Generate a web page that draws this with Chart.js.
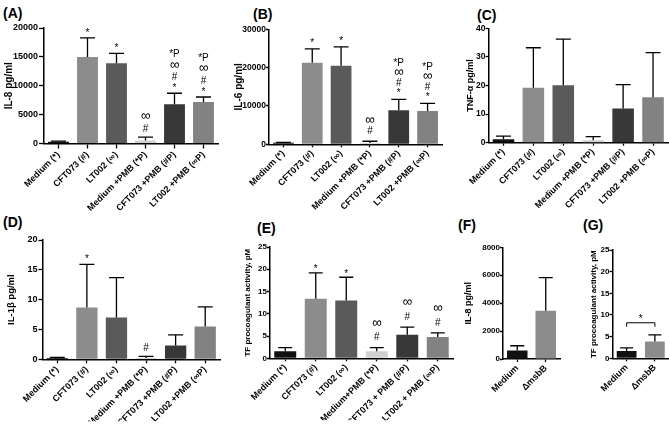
<!DOCTYPE html>
<html><head><meta charset="utf-8">
<script src="https://cdn.jsdelivr.net/npm/chart.js@4/dist/chart.umd.min.js"></script>
<style>
html,body{margin:0;padding:0;background:#fff;}
#wrap{position:relative;width:669px;height:428px;overflow:hidden;background:#fff;}
#wrap canvas{position:absolute;left:0;top:0;}
.pl{position:absolute;font:bold 14px "Liberation Sans",Arial,sans-serif;line-height:14px;color:#000;white-space:nowrap;}
</style></head><body>
<div id="wrap">
  <div class="pl" style="left:3px;top:6px">(A)</div>
  <div class="pl" style="left:253px;top:7px">(B)</div>
  <div class="pl" style="left:477px;top:8px">(C)</div>
  <div class="pl" style="left:3px;top:215px">(D)</div>
  <div class="pl" style="left:257px;top:221px">(E)</div>
  <div class="pl" style="left:458px;top:218px">(F)</div>
  <div class="pl" style="left:583px;top:218px">(G)</div>
</div>
<script>
// ---------- DATA ----------
const catsMain = ["Medium (*)", "CFT073 (#)", "LT002 (\u221E)", "Medium +PMB (*P)", "CFT073 +PMB (#P)", "LT002 +PMB (\u221EP)"];
const catsE = ["Medium (*)", "CFT073 (#)", "LT002 (\u221E)", "Medium+PMB (*P)", "CFT073 + PMB (#P)", "LT002 + PMB (\u221EP)"];
const catsFG = ["Medium", "\u0394msbB"];

const il8Mean = [300, 15000, 13900, 500, 6800, 7200];
const il8Sd   = [120, 3300, 1700, 600, 1900, 850];
const il6Mean = [400, 21300, 20500, 350, 8900, 8700];
const il6Sd   = [100, 3600, 4900, 450, 2800, 2000];
const tnfMean = [1.2, 19.2, 20.1, 0.9, 12.0, 15.9];
const tnfSd   = [1.1, 14.0, 16.1, 1.2, 8.3, 15.6];
const il1Mean = [0.2, 8.7, 7.0, 0.2, 2.3, 5.5];
const il1Sd   = [0.1, 7.2, 6.7, 0.3, 1.8, 3.3];
const tfMean  = [1.6, 13.4, 13.0, 1.6, 5.3, 4.8];
const tfSd    = [0.8, 5.8, 5.2, 0.8, 1.7, 0.9];
const il8FMean = [600, 3450];
const il8FSd   = [350, 2380];
const tfGMean  = [1.7, 3.9];
const tfGSd    = [0.7, 1.5];

const annA = [[], ["*"], ["*"], ["\u221E", "#"], ["*P", "\u221E", "#", "*"], ["*P", "\u221E", "#", "*"]];
const annB = [[], ["*"], ["*"], ["\u221E", "#"], ["*P", "\u221E", "#", "*"], ["*P", "\u221E", "#", "*"]];
const annD = [[], ["*"], [], ["#"], [], []];
const annE = [[], ["*"], ["*"], ["\u221E", "#"], ["\u221E", "#"], ["\u221E", "#"]];
const sigG = [{ from: 0, to: 1, value: 8.2, label: "*" }];

// ---------- STYLE ----------
const FONT = '"Liberation Sans", Arial, sans-serif';
const colorsMain = ["#111111", "#8c8c8c", "#5a5a5a", "#d0d0d0", "#383838", "#828282"];
const colorsFG = ["#111111", "#8c8c8c"];
Chart.defaults.font.family = FONT;
Chart.defaults.color = "#000";

const errPlugin = {
  id: "errAnn",
  afterDatasetsDraw(chart, args, o) {
    if (!o || !o.sd) return;
    const ctx = chart.ctx, meta = chart.getDatasetMeta(0), ys = chart.scales.y;
    const means = chart.data.datasets[0].data;
    ctx.save();
    ctx.strokeStyle = "#000";
    ctx.fillStyle = "#000";
    ctx.lineWidth = o.lw || 1.3;
    o.sd.forEach((s, i) => {
      const el = meta.data[i];
      const x = el.x;
      const yb = ys.getPixelForValue(means[i]);
      const yt = ys.getPixelForValue(means[i] + s);
      ctx.beginPath();
      ctx.moveTo(x, yb); ctx.lineTo(x, yt);
      ctx.moveTo(x - o.cap, yt); ctx.lineTo(x + o.cap, yt);
      ctx.stroke();
      const lines = (o.ann && o.ann[i]) || [];
      ctx.textAlign = "center";
      ctx.textBaseline = "alphabetic";
      for (let k = 0; k < lines.length; k++) {
        const t = lines[lines.length - 1 - k];
        const g0 = lines[lines.length - 1] === "*" ? o.gs : o.go;
        const fs = t === "\u221E" ? (o.afs || 10) * 1.35 : (o.afs || 10);
        ctx.font = fs + "px " + FONT;
        ctx.fillText(t, x, yt - g0 - k * o.sp);
      }
    });
    if (o.sig) {
      ctx.lineWidth = 1;
      o.sig.forEach(b => {
        const x1 = meta.data[b.from].x, x2 = meta.data[b.to].x;
        const y = ys.getPixelForValue(b.value);
        ctx.beginPath();
        ctx.moveTo(x1, y + 4); ctx.lineTo(x1, y); ctx.lineTo(x2, y); ctx.lineTo(x2, y + 4);
        ctx.stroke();
        ctx.font = "10px " + FONT;
        ctx.fillText(b.label, (x1 + x2) / 2, y - 1);
      });
    }
    ctx.restore();
  }
};

function panel(p) {
  const cv = document.createElement("canvas");
  cv.width = 669; cv.height = 428;
  cv.style.width = "669px"; cv.style.height = "428px";
  document.getElementById("wrap").appendChild(cv);
  const tfs = p.tfs, lh = tfs * 1.2;
  const yw = p.x0 - p.titleX + lh / 2 + 2;
  const xh = p.xh;
  const tl = p.tl || 4;
  new Chart(cv, {
    type: "bar",
    data: {
      labels: p.labels,
      datasets: [{
        data: p.means,
        backgroundColor: p.colors,
        borderWidth: 0,
        barPercentage: p.bp || 0.72,
        categoryPercentage: 1
      }]
    },
    options: {
      responsive: false,
      animation: false,
      devicePixelRatio: 1,
      layout: { padding: { left: p.x0 - yw, top: p.y0, right: 669 - p.x1, bottom: 428 - p.y1 - xh } },
      plugins: {
        legend: { display: false },
        tooltip: { enabled: false },
        errAnn: { sd: p.sd, ann: p.ann, cap: p.cap || 7, afs: p.afs, sp: p.sp, gs: p.gs, go: p.go, sig: p.sig }
      },
      scales: {
        x: {
          afterFit: s => { s.height = xh; },
          border: { color: "#000", width: 1.5 },
          grid: { display: true, drawOnChartArea: false, drawTicks: true, offset: false, tickLength: tl, tickColor: "#000", tickWidth: 1.3, color: "#000" },
          ticks: { autoSkip: false, minRotation: 45, maxRotation: 45, padding: 1, color: "#000", font: { size: p.xfs || 9, weight: "bold" } }
        },
        y: {
          min: 0, max: p.max,
          afterFit: s => { s.width = yw; },
          border: { color: "#000", width: 1.5 },
          grid: { display: true, drawOnChartArea: false, drawTicks: true, tickLength: tl, tickColor: "#000", tickWidth: 1.3, color: "#000" },
          ticks: { stepSize: p.step, padding: p.tp === undefined ? 1 : p.tp, color: "#000", font: { size: p.yfs || 8.5, weight: "bold" }, callback: v => String(v) },
          title: { display: true, text: p.title, color: "#000", font: { size: tfs, weight: "bold" }, padding: { top: 2, bottom: 0 } }
        }
      }
    },
    plugins: [errPlugin]
  });
}

panel({ labels: catsMain, means: il8Mean, sd: il8Sd, colors: colorsMain, max: 20000, step: 5000,
  x0: 44, x1: 218, y0: 28, y1: 143.5, xh: 70, titleX: 9, tfs: 10, title: "IL-8 pg/ml",
  ann: annA, afs: 10, sp: 11.3, gs: 2, go: 5.5, cap: 7.5, tl: 5, yfs: 9 });
panel({ labels: catsMain, means: il6Mean, sd: il6Sd, colors: colorsMain, max: 30000, step: 10000,
  x0: 269, x1: 442, y0: 29.3, y1: 144.3, xh: 70, titleX: 239, tfs: 10, title: "IL-6 pg/ml",
  ann: annB, afs: 10, sp: 10, gs: 3, go: 7, cap: 7.5, tl: 3, tp: 0, yfs: 8.5 });
panel({ labels: catsMain, means: tnfMean, sd: tnfSd, colors: colorsMain, max: 40, step: 10,
  x0: 488.5, x1: 668, y0: 28.3, y1: 142.7, xh: 70, titleX: 471, tfs: 9, title: "TNF-\u03B1 pg/ml",
  ann: null, cap: 7.5, yfs: 8.5, tl: 3, tp: 0 });
panel({ labels: catsMain, means: il1Mean, sd: il1Sd, colors: colorsMain, max: 20, step: 5,
  x0: 42.5, x1: 220, y0: 240, y1: 359.3, xh: 62, titleX: 11, tfs: 9.5, title: "IL-1\u03B2 pg/ml",
  ann: annD, afs: 10, sp: 11, gs: 2, go: 5.4, cap: 7.5, tl: 4, yfs: 9 });
panel({ labels: catsE, means: tfMean, sd: tfSd, colors: colorsMain, max: 25, step: 5,
  x0: 270, x1: 453, y0: 247, y1: 358.3, xh: 62, titleX: 248, tfs: 8, title: "TF procoagulant activity, pM",
  ann: annE, afs: 10, sp: 13.5, gs: 0.5, go: 7.4, cap: 7, yfs: 8, tl: 3, tp: 0 });
panel({ labels: catsFG, means: il8FMean, sd: il8FSd, colors: colorsFG, max: 8000, step: 2000,
  x0: 503, x1: 560, y0: 247.3, y1: 359, xh: 62, titleX: 469, tfs: 9, title: "IL-8 pg/ml",
  ann: null, cap: 7, yfs: 8, bp: 0.72, tl: 3, tp: 0 });
panel({ labels: catsFG, means: tfGMean, sd: tfGSd, colors: colorsFG, max: 25, step: 5,
  x0: 612.5, x1: 669, y0: 250, y1: 358.3, xh: 62, titleX: 594, tfs: 8, title: "TF procoagulant activity, pM",
  ann: null, cap: 6.5, yfs: 8, bp: 0.7, sig: sigG, tl: 3, tp: 0 });
</script>
</body></html>
